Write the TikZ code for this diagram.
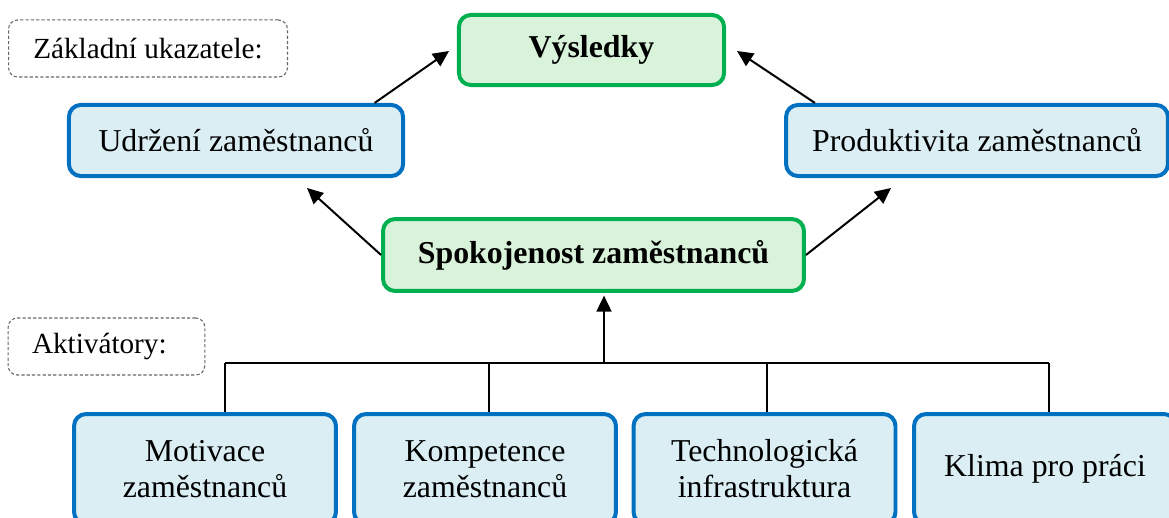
\documentclass[tikz,border=0pt]{standalone}
\usepackage{fontspec}
\setmainfont{Liberation Serif}
\usetikzlibrary{arrows.meta, positioning, calc}
\definecolor{boxblue}{HTML}{0070C0}
\definecolor{fillblue}{HTML}{DAEEF3}
\definecolor{boxgreen}{HTML}{00B050}
\definecolor{fillgreen}{HTML}{D9F3DA}

\begin{document}
\begin{tikzpicture}[x=0.3768pt, y=-0.3768pt,
  every node/.style={font=\fontsize{12}{13.6}\selectfont, align=center, inner sep=0pt},
  bluebox/.style={draw=boxblue, fill=fillblue, line width=1.5pt, rounded corners=4.5pt},
  greenbox/.style={draw=boxgreen, fill=fillgreen, line width=1.5pt, rounded corners=4.5pt,
    font=\fontsize{12}{13.6}\selectfont\bfseries},
  tagbox/.style={draw=gray!80!black, dash pattern=on 1.2pt off 0.8pt, line width=0.4pt, rounded corners=3.5pt,
    font=\fontsize{11}{13}\selectfont},
  arr/.style={-{Triangle[length=6pt,width=5.6pt]}, line width=0.75pt},
  bus/.style={line width=0.75pt}]
\useasboundingbox (0,0) rectangle (1169,518);

% Labels
\node[tagbox, minimum width=105.1pt, minimum height=21.5pt] (basic) at (148,48.5) {Základní ukazatele:};
\node[tagbox, text width=56.1pt, inner xsep=9pt, align=left, minimum height=21.5pt] (drivers) at (106.5,346.5) {Aktivátory:};

% Results
\node[greenbox, minimum width=99.9pt, minimum height=26.4pt] (res) at (591.5,50) {Výsledky};
\node[bluebox, minimum width=125.9pt, minimum height=26.8pt] (ret) at (236,140.5) {Udržení zaměstnanců};
\node[bluebox, minimum width=143.9pt, minimum height=26.8pt] (prod) at (977,140.5) {Produktivita zaměstnanců};
\node[greenbox, minimum width=158.6pt, minimum height=27.1pt] (sat) at (593.5,255) {Spokojenost zaměstnanců};

% Activators
\node[bluebox, minimum width=98.7pt, minimum height=41.4pt] (mot) at (205,469) {Motivace\\zaměstnanců};
\node[bluebox, minimum width=98.7pt, minimum height=41.4pt] (comp) at (485,469) {Kompetence\\zaměstnanců};
\node[bluebox, minimum width=98.7pt, minimum height=41.4pt] (tech) at (764.5,469) {Technologická\\infrastruktura};
\node[bluebox, minimum width=98.7pt, minimum height=41.4pt] (clim) at (1045,469) {Klima pro práci};

% Bus
\foreach \n/\x in {mot/225, comp/489, tech/767, clim/1049} {
    \coordinate (b-\n) at (\x,363);
    \draw[bus] (b-\n) -- (b-\n |- \n.north);
}
\draw[bus] (b-mot) -- (b-clim);
\coordinate (up) at (604,363);
\draw[arr, shorten >=1pt] (up) -- (up |- sat.south);

% Arrows to results
\coordinate (ret-in) at (307,188);
\coordinate (prod-in) at (891,188);
\coordinate (res-l) at (449,51);
\coordinate (res-r) at (737,51);
\draw[arr] (sat.west) -- (ret-in);
\draw[arr] (sat.east) -- (prod-in);
\draw[arr] ($(ret.north west)!0.91!(ret.north east)$) -- (res-l);
\draw[arr] ($(prod.north west)!0.08!(prod.north east)$) -- (res-r);

\end{tikzpicture}
\end{document}
